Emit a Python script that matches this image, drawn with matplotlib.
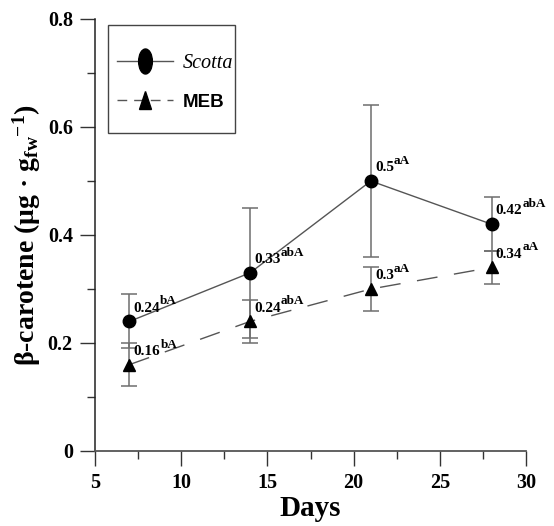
import matplotlib
matplotlib.use("Agg")
import matplotlib.pyplot as plt
from matplotlib.markers import MarkerStyle
from matplotlib.transforms import Affine2D
from matplotlib.lines import Line2D
from matplotlib.patches import Rectangle

days = [7, 14, 21, 28]
scotta = [0.24, 0.33, 0.50, 0.42]
scotta_lo = [0.05, 0.12, 0.14, 0.05]
scotta_hi = [0.05, 0.12, 0.14, 0.05]
meb = [0.16, 0.24, 0.30, 0.34]
meb_lo = [0.04, 0.04, 0.04, 0.03]
meb_hi = [0.04, 0.04, 0.04, 0.03]
scotta_sup = ["bA", "abA", "aA", "abA"]
meb_sup = ["bA", "abA", "aA", "aA"]
scotta_txt = ["0.24", "0.33", "0.5", "0.42"]
meb_txt = ["0.16", "0.24", "0.3", "0.34"]

plt.rcParams['mathtext.fontset'] = 'custom'
plt.rcParams['mathtext.rm'] = 'Liberation Serif:bold'
plt.rcParams['mathtext.bf'] = 'Liberation Serif:bold'
plt.rcParams['mathtext.it'] = 'Liberation Serif:bold'
SERIF = 'Liberation Serif'

fig = plt.figure(figsize=(5.54, 5.26), dpi=100)
ax = fig.add_axes([95/554, 75/526, 431/554, 432/526])

gray = '#6e6e6e'
ax.errorbar(days, scotta, yerr=[scotta_lo, scotta_hi], fmt='none', ecolor=gray,
            elinewidth=1.1, capsize=5.5, capthick=1.1, zorder=2)
ax.errorbar(days, meb, yerr=[meb_lo, meb_hi], fmt='none', ecolor=gray,
            elinewidth=1.1, capsize=5.5, capthick=1.1, zorder=2)
ax.plot(days, scotta, color='#555555', lw=1.0, marker='o', ms=9,
        mfc='black', mec='black', zorder=3)
ax.plot(days, meb, color='#555555', lw=1.0, marker='^', ms=9,
        mfc='black', mec='black', dashes=(15, 12), zorder=3)


def label(x, y, num, sup):
    t = ax.annotate(num, (x, y), xytext=(3, 7), textcoords='offset points',
                    ha='left', va='baseline', fontsize=11, fontweight='bold',
                    family=SERIF, zorder=4)
    ax.annotate(sup, xy=(1, 1), xycoords=t, xytext=(0, 4.5),
                textcoords='offset points', ha='left', va='top', fontsize=9.5,
                fontweight='bold', family=SERIF, zorder=4)


for x, y, t, s in zip(days, scotta, scotta_txt, scotta_sup):
    label(x, y, t, s)
for x, y, t, s in zip(days, meb, meb_txt, meb_sup):
    label(x, y, t, s)

ax.set_xlim(5, 30)
ax.set_ylim(0, 0.8)
ax.set_xticks([5, 10, 15, 20, 25, 30])
ax.set_xticks([7.5, 12.5, 17.5, 22.5, 27.5], minor=True)
ax.set_yticks([0, 0.2, 0.4, 0.6, 0.8])
ax.set_yticklabels(['0', '0.2', '0.4', '0.6', '0.8'])
ax.set_yticks([0.1, 0.3, 0.5, 0.7], minor=True)
for sp in ['top', 'right']:
    ax.spines[sp].set_visible(False)
ax.spines['left'].set_color('#222222')
ax.spines['bottom'].set_color('#555555')
ax.spines['left'].set_linewidth(1.1)
ax.spines['bottom'].set_linewidth(1.3)
ax.tick_params(which='major', direction='out', length=11, width=1.0, pad=5,
               color='#333333')
ax.tick_params(which='minor', direction='out', length=5.5, width=1.0,
               color='#333333')
for lab in ax.get_xticklabels() + ax.get_yticklabels():
    lab.set_fontfamily(SERIF)
    lab.set_fontweight('bold')
    lab.set_fontsize(14.5)

ax.set_xlabel('Days', fontsize=21, fontweight='bold', family=SERIF, labelpad=1)
ax.set_ylabel(r"β-carotene (μg · g$_{\mathbf{fw}}$$^{\mathbf{-1}}$)", fontsize=20,
              fontweight='bold', family=SERIF, labelpad=3)

# legend frame
ax.add_patch(Rectangle((0.030, 0.736), 0.295, 0.250, transform=ax.transAxes,
                       fill=False, edgecolor='#444444', lw=1.0, zorder=5))
ell = MarkerStyle('o', transform=Affine2D().scale(0.55, 1.0))
tri = MarkerStyle('^', transform=Affine2D().scale(0.7, 1.0))
h1 = Line2D([], [], color='#555555', lw=1.0, marker=ell, ms=18, mfc='black', mec='black')
h2 = Line2D([], [], color='#555555', lw=1.0, marker=tri, ms=13, mfc='black', mec='black',
            dashes=(7, 5))
leg = ax.legend([h1, h2], ['Scotta', 'MEB'], loc='center left',
                bbox_to_anchor=(0.051, 0.853), frameon=False,
                handlelength=2.7, handletextpad=0.45, borderpad=0,
                labelspacing=0.95, borderaxespad=0, fontsize=15)
t1, t2 = leg.get_texts()
t1.set_fontfamily(SERIF); t1.set_fontstyle('italic'); t1.set_fontsize(14.5)
t2.set_fontfamily('Liberation Sans')
t2.set_fontweight('bold'); t2.set_fontsize(13.5)

fig.savefig('out.png', dpi=100)
